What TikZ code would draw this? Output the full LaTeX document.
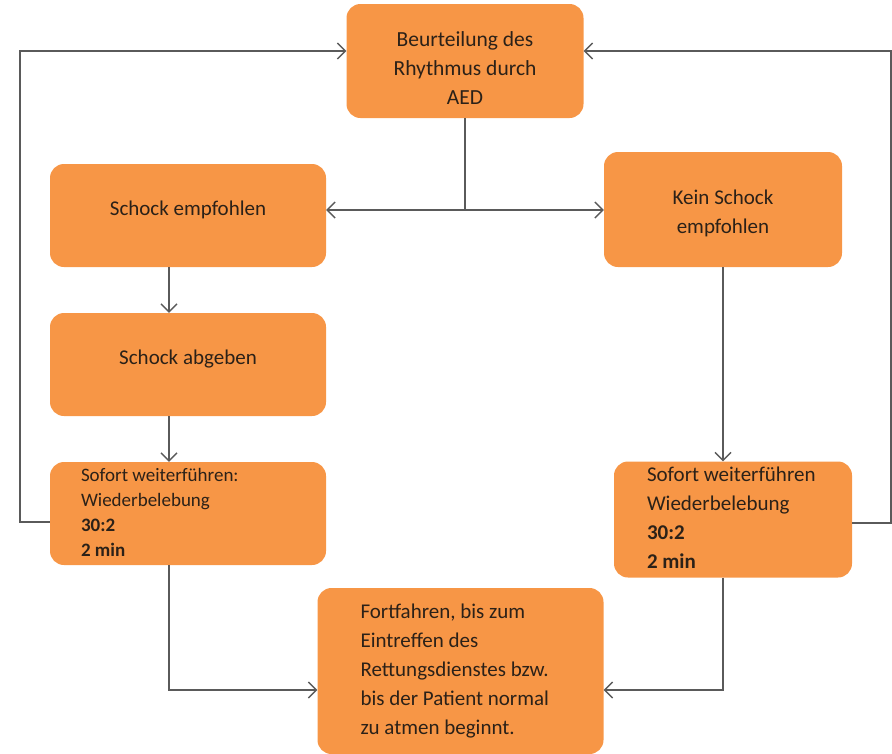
\documentclass[tikz,border=0pt]{standalone}
\usepackage{fontspec}
\setmainfont{Carlito}
\usepackage{xcolor}
\usepackage{tikz}
\usetikzlibrary{arrows.meta}
\definecolor{aedorange}{HTML}{F79646}
\definecolor{aedline}{HTML}{5A5A5A}
\definecolor{aedtext}{HTML}{2B2118}

\begin{document}
\begin{tikzpicture}[x=1pt,y=-1pt,
  box/.style={rectangle,rounded corners=14pt,fill=aedorange,text=aedtext,inner sep=0pt,font=\fontsize{21}{29}\selectfont},
  oneline/.style={text height=0pt,text depth=0pt},
  flow/.style={-{Straight Barb[length=8pt,width=16pt]},line width=1.4pt,draw=aedline},
  link/.style={line width=1.4pt,draw=aedline}]
\useasboundingbox (0,0) rectangle (892,753);

% Rhythmus box
\node[box,minimum width=237,minimum height=114,text height=26.8pt,text depth=0pt,
  font=\fontsize{21.5}{29}\selectfont] (aed) at (465,61) {
\begin{tabular}{@{}c@{}}
Beurteilung des\\
Rhythmus durch\\
AED
\end{tabular}
};

% Schock boxes
\node[box,oneline,minimum width=276,minimum height=103] (schock) at (188,215.5) {Schock empfohlen};
\node[box,minimum width=238,minimum height=115,text height=17.5pt,text depth=0pt] (kein) at (723,209.5) {
\begin{tabular}{@{}c@{}}
Kein Schock\\
empfohlen
\end{tabular}
};
\node[box,oneline,minimum width=276,minimum height=103] (abgeben) at (188,364.5) {Schock abgeben};

% Wiederbelebung boxes
\node[box,minimum width=276,minimum height=103,font=\fontsize{19}{25}\selectfont] (cprl) at (188,513.5) {
\makebox[214pt][l]{\begin{tabular}{@{}l@{}}
Sofort weiterführen:\\
Wiederbelebung\\
\textbf{30:2}\\
\textbf{2 min}
\end{tabular}}
};
\node[box,minimum width=238,minimum height=115] (cprr) at (733,519.5) {
\makebox[172pt][l]{\begin{tabular}{@{}l@{}}
Sofort weiterführen\\
Wiederbelebung\\
\textbf{30:2}\\
\textbf{2 min}
\end{tabular}}
};

% Fortfahren box
\node[box,minimum width=286,minimum height=166] (weiter) at (460.5,671) {
\makebox[200pt][l]{\begin{tabular}{@{}l@{}}
Fortfahren, bis zum\\
Eintreffen des\\
Rettungsdienstes bzw.\\
bis der Patient normal\\
zu atmen beginnt.
\end{tabular}}
};

% Arrows
\coordinate (split) at (465,210);
\draw[link] (aed.south) -- (split);
\draw[flow] (split) -- (split -| schock.east);
\draw[flow] (split) -- (split -| kein.west);
\draw[flow] ([xshift=-19pt]schock.south) -- ([xshift=-19pt]abgeben.north);
\draw[flow] ([xshift=-19pt]abgeben.south) -- ([xshift=-19pt]cprl.north);
\draw[flow] (kein.south) -- (kein.south |- cprr.north);
\draw[flow] ([xshift=-19pt]cprl.south) |- ([yshift=-19pt]weiter.west);
\draw[flow] ([xshift=-10pt]cprr.south) |- ([yshift=-19pt]weiter.east);

% Loops back to the top
\coordinate (lturn) at (20,522);
\coordinate (rturn) at (891,523);
\draw[flow] (cprl.west |- lturn) -- (lturn) |- ([yshift=10pt]aed.west);
\draw[flow] (cprr.east |- rturn) -- (rturn) |- ([yshift=10pt]aed.east);
\end{tikzpicture}
\end{document}
